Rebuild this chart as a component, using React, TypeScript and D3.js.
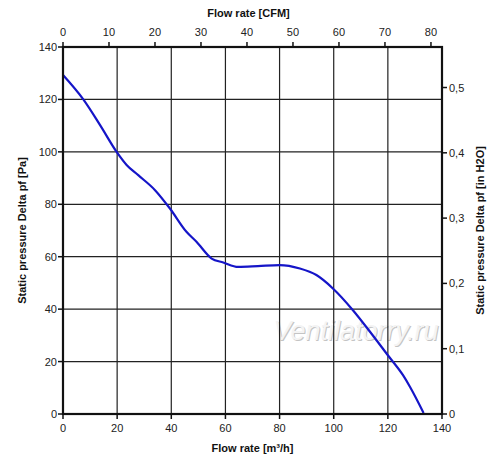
import React from "react";
import * as d3 from "d3";

const flowM3h = [0, 7.5, 13.7, 20, 23.5, 27.8, 34, 39.5, 45.6, 49.3, 54.9, 59.2, 64.7, 72, 80, 87.5, 93.6, 99.7, 107.1, 113.9, 120, 125.6, 128.2, 133.2];
const pressurePa = [129.3, 120, 110.2, 99.7, 95, 91.1, 85.4, 78.4, 69.5, 65.7, 59.3, 57.8, 56.1, 56.4, 56.8, 55.5, 53, 47.9, 39.6, 30.7, 22.4, 14.8, 10.3, 0.4];

const xTicks = [0, 20, 40, 60, 80, 100, 120, 140];
const yTicks = [0, 20, 40, 60, 80, 100, 120, 140];
const cfmTicks = [0, 10, 20, 30, 40, 50, 60, 70, 80];
const inH2OTicks = [0, 0.1, 0.2, 0.3, 0.4, 0.5];

const M3H_TO_CFM = 0.588578;
const PA_TO_INH2O = 0.0040146;

const width = 500;
const height = 470;
const margin = { left: 63, right: 58, top: 47, bottom: 56 };

const App = () => {
  const x = d3.scaleLinear().domain([0, 140]).range([margin.left, width - margin.right]);
  const y = d3.scaleLinear().domain([0, 140]).range([height - margin.bottom, margin.top]);
  const xCfm = d3.scaleLinear().domain([0, 140 * M3H_TO_CFM]).range(x.range());
  const yIn = d3.scaleLinear().domain([0, 140 * PA_TO_INH2O]).range(y.range());

  const line = d3
    .line<number>()
    .x((d, i) => x(flowM3h[i]))
    .y((d) => y(d))
    .curve(d3.curveMonotoneX);

  const [x0, x1] = x.range();
  const [y0, y1] = y.range();
  const font = "'Liberation Sans', Arial, sans-serif";

  return (
    <svg
      width={width}
      height={height}
      style={{ position: "absolute", left: 0, top: 0, background: "#fff" }}
      fontFamily={font}
    >
      {/* watermark */}
      <g fontStyle="italic" fontSize={27} textAnchor="middle">
        <text x={357} y={341} fill="#c4c4c4">Ventilatorry.ru</text>
        <text x={356} y={340} fill="#f4f4f4">Ventilatorry.ru</text>
      </g>

      {/* grid */}
      <g stroke="#222" strokeWidth={1.2}>
        {xTicks.slice(1, -1).map((t) => (
          <line key={"gx" + t} x1={x(t)} x2={x(t)} y1={y0} y2={y1} />
        ))}
        {yTicks.slice(1, -1).map((t) => (
          <line key={"gy" + t} x1={x0} x2={x1} y1={y(t)} y2={y(t)} />
        ))}
      </g>

      <path d={line(pressurePa) || ""} fill="none" stroke="#1515c8" strokeWidth={2.2} />

      {/* frame */}
      <rect x={x0} y={y1} width={x1 - x0} height={y0 - y1} fill="none" stroke="#111" strokeWidth={2.2} />

      {/* bottom axis */}
      <g fontSize={11} fill="#222" textAnchor="middle">
        {xTicks.map((t) => (
          <g key={"bx" + t}>
            <line x1={x(t)} x2={x(t)} y1={y0} y2={y0 + 5} stroke="#111" strokeWidth={1.5} />
            <text x={x(t)} y={y0 + 18}>{t}</text>
          </g>
        ))}
        {cfmTicks.map((t) => (
          <g key={"tx" + t}>
            <line x1={xCfm(t)} x2={xCfm(t)} y1={y1} y2={y1 - 5} stroke="#111" strokeWidth={1.5} />
            <text x={xCfm(t)} y={y1 - 11}>{t}</text>
          </g>
        ))}
      </g>
      <g fontSize={11} fill="#222" textAnchor="end">
        {yTicks.map((t) => (
          <g key={"ly" + t}>
            <line x1={x0} x2={x0 - 5} y1={y(t)} y2={y(t)} stroke="#111" strokeWidth={1.5} />
            <text x={x0 - 6} y={y(t) + 4}>{t}</text>
          </g>
        ))}
      </g>
      <g fontSize={11} fill="#222" textAnchor="start">
        {inH2OTicks.map((t) => (
          <g key={"ry" + t}>
            <line x1={x1} x2={x1 + 5} y1={yIn(t)} y2={yIn(t)} stroke="#111" strokeWidth={1.5} />
            <text x={x1 + 7} y={yIn(t) + 4}>{t === 0 ? "0" : d3.format(".1f")(t).replace(".", ",")}</text>
          </g>
        ))}
      </g>

      {/* titles */}
      <g fontSize={11} fontWeight="bold" fill="#111" textAnchor="middle">
        <text x={(x0 + x1) / 2 - 4} y={17}>Flow rate [CFM]</text>
        <text x={(x0 + x1) / 2} y={452}>Flow rate [m³/h]</text>
        <text transform={`translate(26,${(y0 + y1) / 2}) rotate(-90)`}>Static pressure Delta pf [Pa]</text>
        <text transform={`translate(484,${(y0 + y1) / 2}) rotate(-90)`}>Static pressure Delta pf [in H2O]</text>
      </g>
    </svg>
  );
};

export default App;
